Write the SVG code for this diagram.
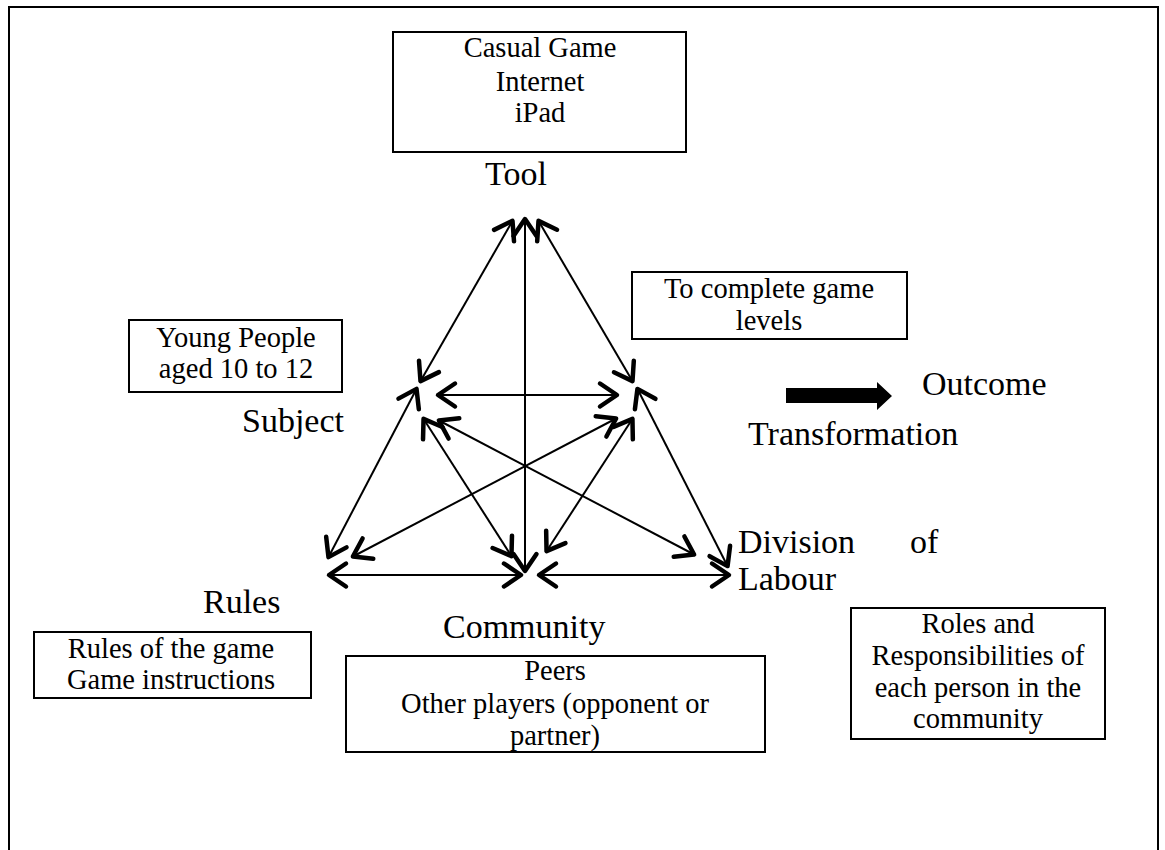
<svg xmlns="http://www.w3.org/2000/svg" width="1165" height="850" viewBox="0 0 1165 850">
<style>
.box{fill:#fff;stroke:#000;stroke-width:2}
.bt{font-family:"Liberation Serif","Times New Roman",serif;font-size:28.5px;fill:#000;text-anchor:middle}
.lb{font-family:"Liberation Serif","Times New Roman",serif;font-size:34px;fill:#000}
.con line{stroke:#000;stroke-width:2;marker-start:url(#ah);marker-end:url(#ah)}
</style>
<defs>
<marker id="ah" markerUnits="userSpaceOnUse" viewBox="-24 -16 28 32" markerWidth="28" markerHeight="32" refX="0" refY="0" orient="auto-start-reverse" overflow="visible">
<path d="M -18 -11.5 L -1 0 L -18 11.5" fill="none" stroke="#000" stroke-width="4.5" stroke-linecap="round" stroke-linejoin="round"/>
</marker>
</defs>
<rect width="1165" height="850" fill="#fff"/>
<path d="M9 870 V7 H1158 V870" fill="none" stroke="#000" stroke-width="2"/>

<g id="tool-box"><rect class="box" x="393" y="32" width="293" height="120"/>
<text class="bt" x="540" y="57">Casual Game</text><text class="bt" x="540" y="91">Internet</text><text class="bt" x="540" y="122">iPad</text></g>
<g id="tool"><text class="lb" x="485" y="185">Tool</text></g>

<g id="subject-box"><rect class="box" x="129" y="320" width="213" height="72"/>
<text class="bt" x="236" y="347">Young People</text><text class="bt" x="236" y="378">aged 10 to 12</text></g>
<g id="subject"><text class="lb" x="242" y="432">Subject</text></g>

<g id="object-box"><rect class="box" x="632" y="272" width="275" height="67"/>
<text class="bt" x="769" y="298">To complete game</text><text class="bt" x="769" y="330">levels</text></g>

<g id="outcome"><polygon points="786,388 877,388 877,382 892,396 877,410 877,403 786,403" fill="#000"/>
<text class="lb" x="922" y="395">Outcome</text>
<text class="lb" x="748" y="445">Transformation</text></g>

<g id="division"><text class="lb" x="738" y="553">Division</text><text class="lb" x="910" y="553">of</text>
<text class="lb" x="738" y="590">Labour</text></g>

<g id="rules"><text class="lb" x="203" y="613">Rules</text></g>
<g id="rules-box"><rect class="box" x="34" y="632" width="277" height="66"/>
<text class="bt" x="171" y="658">Rules of the game</text><text class="bt" x="171" y="689">Game instructions</text></g>

<g id="community"><text class="lb" x="443" y="638">Community</text></g>
<g id="community-box"><rect class="box" x="346" y="656" width="419" height="96"/>
<text class="bt" x="555" y="680">Peers</text><text class="bt" x="555" y="713">Other players (opponent or</text><text class="bt" x="555" y="745">partner)</text></g>

<g id="division-box"><rect class="box" x="851" y="608" width="254" height="131"/>
<text class="bt" x="978" y="633">Roles and</text><text class="bt" x="978" y="665">Responsibilities of</text><text class="bt" x="978" y="697">each person in the</text><text class="bt" x="978" y="728">community</text></g>

<g id="connectors" class="con">
<line x1="513" y1="220" x2="420" y2="382"/>
<line x1="538" y1="220" x2="633" y2="382"/>
<line x1="525" y1="218" x2="525" y2="572"/>
<line x1="437" y1="395" x2="618" y2="395"/>
<line x1="417" y1="388" x2="328" y2="558"/>
<line x1="637" y1="388" x2="728" y2="567"/>
<line x1="328" y1="575" x2="522" y2="575"/>
<line x1="538" y1="575" x2="730" y2="575"/>
<line x1="423" y1="418" x2="512" y2="557"/>
<line x1="633" y1="418" x2="546" y2="552"/>
<line x1="438" y1="420" x2="695" y2="555"/>
<line x1="617" y1="418" x2="352" y2="557"/>
</g>
</svg>
